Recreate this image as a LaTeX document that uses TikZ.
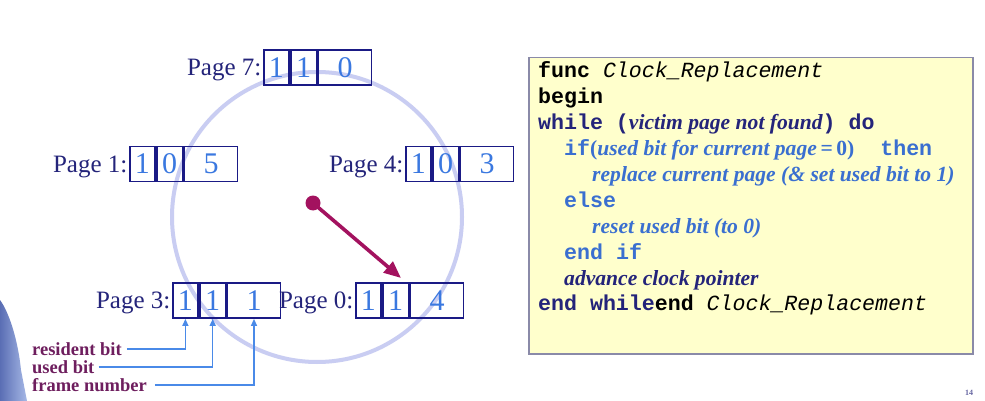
\documentclass[tikz,border=0pt]{standalone}
\usepackage{fontspec}
\setmainfont{Liberation Serif}
\setmonofont{Liberation Mono}
\usetikzlibrary{arrows.meta}
\definecolor{navy}{HTML}{24247A}
\definecolor{boxline}{HTML}{1A1A85}
\definecolor{digit}{HTML}{3A78E0}
\definecolor{ring}{HTML}{C9CDF2}
\definecolor{hand}{HTML}{A3125F}
\definecolor{callout}{HTML}{4A8AE8}
\definecolor{lbl}{HTML}{6E1E5E}
\definecolor{codebg}{HTML}{FFFFCC}
\definecolor{codeframe}{HTML}{8A8AA8}
\definecolor{kwblue}{HTML}{3A6FD0}
\definecolor{blobdark}{HTML}{5A6EB4}
\definecolor{bloblight}{HTML}{A6B8E6}
\newcommand\kw[1]{{\ttfamily\bfseries #1}}
\newcommand\ct[1]{{\rmfamily\bfseries\itshape #1}}
\newcommand\ut[1]{{\rmfamily\bfseries #1}}
\newcommand\pgbox[7]{%
  \node[cell, minimum width=25pt] (#1a) at (#2,#3) {#5};
  \node[cell, minimum width=26pt] (#1b) at (#1a.east) {#6};
  \node[cell, minimum width=53pt] (#1c) at (#1b.east) {#7};
  \node[pagelbl] (#1l) at (#1a.west) {#4};
}
\begin{document}
\begin{tikzpicture}[x=1pt,y=-1pt,
  cell/.style={draw=boxline, line width=1.8pt, minimum height=35pt, inner sep=0pt,
    anchor=west, text=digit, font=\fontsize{30}{30}\selectfont},
  pagelbl/.style={anchor=base east, xshift=-1.5pt, yshift=-8pt, inner sep=0pt,
    text=navy, font=\fontsize{25}{25}\selectfont},
  codeline/.style={anchor=base west, inner sep=0pt, font=\fontsize{21.6}{24}\selectfont},
  calloutlbl/.style={anchor=west, inner sep=0pt, text=lbl, font=\fontsize{18.5}{20}\selectfont\bfseries},
  calloutline/.style={draw=callout, line width=1.4pt, -{Triangle[length=7pt,width=6pt]}}
]
\useasboundingbox (0,0) rectangle (985,401);
\fill[white] (0,0) rectangle (985,401);
% left figure edge
\shade[left color=blobdark, right color=bloblight] (0,300) .. controls (9,312) and (18,340) .. (21,370) -- (27,401) -- (0,401) -- cycle;
% clock ring
\node[circle, draw=ring, line width=4pt, minimum size=290pt, inner sep=0pt] (clock) at (317,217) {};
% page boxes
\pgbox{p7}{263}{67.5}{Page 7:}{1}{1}{0}
\pgbox{p1}{129}{164}{Page 1:}{1}{0}{5}
\pgbox{p4}{405}{164}{Page 4:}{1}{0}{3}
\pgbox{p3}{172}{300.5}{Page 3:}{1}{1}{1}
\pgbox{p0}{355}{300.5}{Page 0:}{1}{1}{4}
% clock hand
\node[circle, fill=hand, minimum size=15pt, inner sep=0pt] (hub) at (313,203) {};
\coordinate (tip) at (401,278);
\draw[hand, line width=3.6pt, -{Triangle[length=17pt,width=14pt]}] (hub.center) -- (tip);
% callouts
\node[calloutlbl] (res) at (32,349) {resident bit};
\node[calloutlbl] (used) at (32,367) {used bit};
\node[calloutlbl] (frame) at (32,385) {frame number};
\draw[calloutline] ([xshift=5pt]res.east) -| (p3a.south);
\draw[calloutline] ([xshift=4pt]used.east) -| (p3b.south);
\draw[calloutline] ([xshift=8pt]frame.east) -| (p3c.south);
% code box
\node[draw=codeframe, fill=codebg, line width=1.5pt, minimum width=444pt, minimum height=296pt,
  anchor=north west, inner sep=0pt] (code) at (528,57) {};
\node[codeline, text=black] (l1) at (538,78) {\kw{func }{\ttfamily\itshape Clock\_Replacement}};
\node[codeline, text=black] (l2) at (538,104) {\kw{begin}};
\node[codeline, text=navy] (l3) at (538,130) {\kw{while (}\ct{victim page not found}\kw{) do}};
\node[codeline, text=kwblue] (l4) at (564,156) {\kw{if}\ut{(}\ct{used bit for current page}\ut{\,=\,0)}\kw{\ \ then}};
\node[codeline, text=kwblue] (l5) at (592,182) {\ct{replace current page (\& set used bit to 1)}};
\node[codeline, text=kwblue] (l6) at (564,207) {\kw{else}};
\node[codeline, text=kwblue] (l7) at (592,233) {\ct{reset used bit (to 0)}};
\node[codeline, text=kwblue] (l8) at (564,259) {\kw{end if}};
\node[codeline, text=navy] (l9) at (564,285) {\ct{advance clock pointer}};
\node[codeline, text=navy] (l10) at (538,310) {\kw{end while}\textcolor{black}{\kw{end }{\ttfamily\itshape Clock\_Replacement}}};
% slide number
\node[inner sep=0pt, text=navy!70, font=\fontsize{8}{8}\selectfont\bfseries] (num) at (969,393) {14};
\end{tikzpicture}
\end{document}
